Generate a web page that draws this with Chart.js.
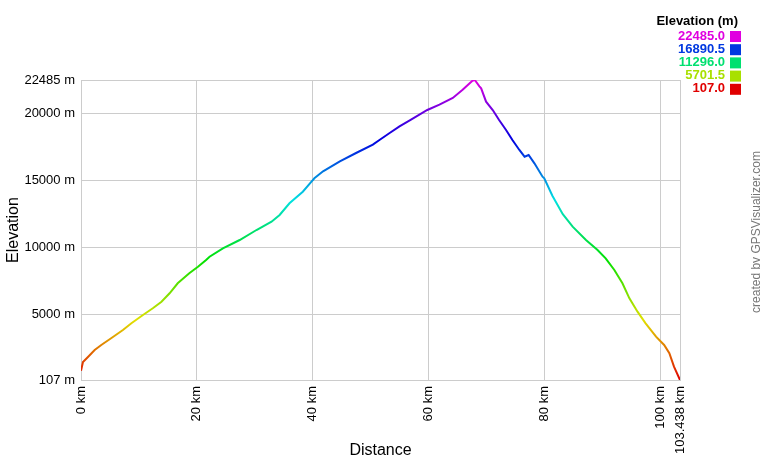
<!DOCTYPE html>
<html>
<head>
<meta charset="utf-8">
<script src="https://cdn.jsdelivr.net/npm/chart.js@4/dist/chart.umd.min.js"></script>
<style>
  html, body { margin: 0; padding: 0; background: #fff; }
  #wrap { position: relative; width: 760px; height: 460px; }
</style>
</head>
<body>
<div id="wrap"><canvas id="c" width="760" height="460"></canvas></div>
<script>
// ---- data ----
const distanceKm = [0, 0.34, 1.2, 2.36, 3.5, 5.2, 7.24, 8.7, 10.7, 12.4, 13.9, 15.3, 16.7, 18.7, 20.2, 21.6,
  22.2, 24.5, 27.4, 30.3, 32.9, 34.3, 36.0, 38.3, 39.8, 40.3, 41.8, 44.7, 47.5, 50.4, 51.6, 53.3,
  55.0, 56.7, 59.8, 61.9, 64.2, 65.9, 67.6, 68.0, 68.8, 69.1, 69.95, 71.1, 72.2, 73.4, 74.5, 75.7,
  76.6, 77.3, 78.3, 79.7, 80.0, 81.4, 83.2, 84.9, 87.2, 89.2, 90.6, 92.1, 93.5, 94.7, 96.1, 97.5,
  99.3, 100.7, 101.6, 102.4, 103.438];
const elevationM = [800, 1450, 1823, 2345, 2718, 3218, 3837, 4337, 4956, 5455, 5947, 6575, 7320, 8067, 8560, 9058,
  9304, 9931, 10550, 11296, 11915, 12415, 13288, 14153, 14900, 15152, 15672, 16420, 17040, 17660, 18032, 18532,
  19031, 19450, 20250, 20643, 21143, 21762, 22435, 22485, 22016, 21866, 20866, 20247, 19500, 18755, 18010, 17265,
  16765, 16890, 16270, 15270, 15152, 13850, 12480, 11543, 10550, 9805, 9185, 8312, 7320, 6200, 5202, 4337,
  3337, 2718, 2099, 1099, 107];
const xTickValues = [0, 20, 40, 60, 80, 100, 103.438];
const yTickValues = [107, 5000, 10000, 15000, 20000, 22485];
const legendTitle = 'Elevation (m)';
const creditText = 'created by GPSVisualizer.com';

const minE = Math.min(...elevationM);
const maxE = Math.max(...elevationM);
const legendValues = [0, 0.25, 0.5, 0.75, 1].map(f => minE + (maxE - minE) * (1 - f));

function hueColor(v) {
  const h = 300 * (v - minE) / (maxE - minE);
  return 'hsl(' + h.toFixed(1) + ',100%,44%)';
}

const points = distanceKm.map((d, i) => ({ x: d, y: elevationM[i] }));

let gradCache = null, gradKey = '';
function lineGradient(ctx, area) {
  const key = area.top + ':' + area.bottom;
  if (gradCache && gradKey === key) return gradCache;
  const g = ctx.createLinearGradient(0, area.bottom, 0, area.top);
  for (let i = 0; i <= 20; i++) {
    const f = i / 20;
    g.addColorStop(f, 'hsl(' + (300 * f).toFixed(1) + ',100%,44%)');
  }
  gradCache = g; gradKey = key;
  return g;
}

const extras = {
  id: 'extras',
  afterDraw(chart) {
    const ctx = chart.ctx;
    ctx.save();
    ctx.textAlign = 'right';
    ctx.textBaseline = 'middle';
    ctx.fillStyle = '#000';
    ctx.font = 'bold 13px "Liberation Sans", Arial, sans-serif';
    ctx.fillText(legendTitle, 738, 21);
    legendValues.forEach((v, i) => {
      const y = 36 + i * 13.2;
      const col = hueColor(v);
      ctx.fillStyle = col;
      ctx.fillText(v.toFixed(1), 725, y);
      ctx.fillRect(730, y - 5, 11, 11);
    });
    ctx.translate(757, 232);
    ctx.rotate(-Math.PI / 2);
    ctx.textAlign = 'center';
    ctx.fillStyle = '#777';
    ctx.font = '12px "Liberation Sans", Arial, sans-serif';
    ctx.fillText(creditText, 0, 0);
    ctx.restore();
  }
};

Chart.defaults.font.family = '"Liberation Sans", Arial, sans-serif';
Chart.defaults.color = '#000';

new Chart(document.getElementById('c'), {
  type: 'line',
  data: {
    datasets: [{
      data: points,
      borderWidth: 2,
      pointRadius: 0,
      tension: 0,
      fill: false,
      borderColor(context) {
        const chart = context.chart;
        const area = chart.chartArea;
        if (!area) return '#f00';
        return lineGradient(chart.ctx, area);
      }
    }]
  },
  options: {
    responsive: false,
    animation: false,
    events: [],
    layout: { padding: { top: 80, right: 80, left: 0, bottom: 0 } },
    plugins: { legend: { display: false }, tooltip: { enabled: false } },
    scales: {
      x: {
        type: 'linear',
        min: 0,
        max: 103.438,
        afterBuildTicks(s) { s.ticks = xTickValues.map(v => ({ value: v })); },
        afterFit(s) { s.height = 80; },
        grid: { color: '#cccccc', drawTicks: false, lineWidth: 1 },
        border: { color: '#cccccc' },
        ticks: {
          autoSkip: false, minRotation: 90, maxRotation: 90, padding: 6,
          font: { size: 13 },
          callback: v => v + ' km'
        },
        title: { display: true, text: 'Distance', font: { size: 16 }, padding: { top: 0, bottom: 0 } }
      },
      y: {
        type: 'linear',
        min: 107,
        max: 22485,
        afterBuildTicks(s) { s.ticks = yTickValues.map(v => ({ value: v })); },
        afterFit(s) { s.width = 81; },
        grid: { color: '#cccccc', drawTicks: false, lineWidth: 1 },
        border: { color: '#cccccc' },
        ticks: { autoSkip: false, padding: 6, font: { size: 13 }, callback: v => v + ' m' },
        title: { display: true, text: 'Elevation', font: { size: 16 }, padding: { top: 4, bottom: 0 } }
      }
    }
  },
  plugins: [extras]
});
</script>
</body>
</html>
